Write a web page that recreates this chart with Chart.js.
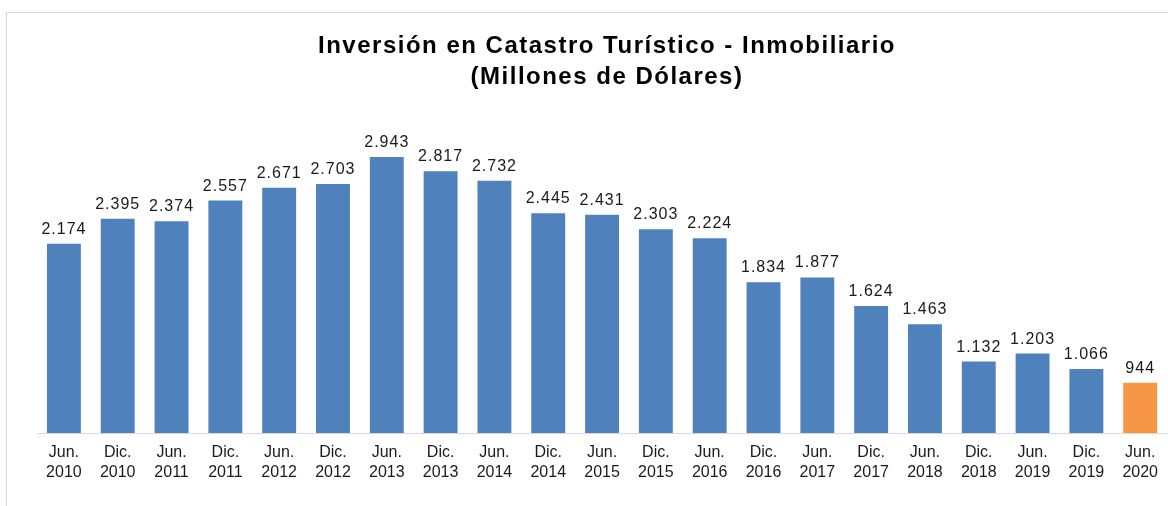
<!DOCTYPE html>
<html>
<head>
    <title>Inversión en Catastro Turístico - Inmobiliario</title>
    <script src="https://cdn.jsdelivr.net/npm/chart.js"></script>
    <style>
        body { margin: 0; overflow: hidden; background: #fff; }
        #marco { position: absolute; left: 6px; top: 12px; width: 1400px; height: 700px; border: 1px solid #d9d9d9; }
        #caja { position: absolute; left: 0; top: 0; width: 1168px; height: 506px; }
    </style>
</head>
<body>
    <div id="marco"></div>
    <div id="caja"><canvas id="grafico"></canvas></div>
    <script>
        // periodos (mes / año) y valores en millones de dólares
        const meses = ['Jun.', 'Dic.', 'Jun.', 'Dic.', 'Jun.', 'Dic.', 'Jun.', 'Dic.', 'Jun.', 'Dic.', 'Jun.',
                       'Dic.', 'Jun.', 'Dic.', 'Jun.', 'Dic.', 'Jun.', 'Dic.', 'Jun.', 'Dic.', 'Jun.'];
        const anios = ['2010', '2010', '2011', '2011', '2012', '2012', '2013', '2013', '2014', '2014', '2015',
                       '2015', '2016', '2016', '2017', '2017', '2018', '2018', '2019', '2019', '2020'];
        const inversion = [2174, 2395, 2374, 2557, 2671, 2703, 2943, 2817, 2732, 2445, 2431,
                           2303, 2224, 1834, 1877, 1624, 1463, 1132, 1203, 1066, 944];
        const titulo = ['Inversión en Catastro Turístico - Inmobiliario', '(Millones de Dólares)'];

        const etiquetas = meses.map((m, i) => [m, anios[i]]);
        const colores = inversion.map((v, i) => i === inversion.length - 1 ? '#F79646' : '#4F81BD');
        const fuente = '"Liberation Sans", Arial, sans-serif';

        // formato con punto de miles: 2174 -> 2.174
        function formato(v) {
            return String(v).replace(/\B(?=(\d{3})+(?!\d))/g, '.');
        }

        // título y valores dibujados a mano (Excel los espacia más que el canvas)
        const textos = {
            id: 'textos',
            afterDatasetsDraw(chart) {
                const ctx = chart.ctx;
                ctx.save();
                ctx.font = '16px ' + fuente;
                ctx.letterSpacing = '1px';
                ctx.fillStyle = '#1a1a1a';
                ctx.textAlign = 'center';
                ctx.textBaseline = 'alphabetic';
                chart.getDatasetMeta(0).data.forEach((barra, i) => {
                    ctx.fillText(formato(inversion[i]), barra.x, barra.y - 10);
                });

                ctx.font = 'bold 24px ' + fuente;
                ctx.letterSpacing = '1.5px';
                ctx.fillStyle = '#000';
                titulo.forEach((linea, i) => {
                    ctx.fillText(linea, 607, 53 + i * 31);
                });
                ctx.restore();
            }
        };

        const ctx = document.getElementById('grafico').getContext('2d');
        new Chart(ctx, {
            type: 'bar',
            data: {
                labels: etiquetas,
                datasets: [{
                    data: inversion,
                    backgroundColor: colores,
                    barPercentage: 0.63,
                    categoryPercentage: 1
                }]
            },
            options: {
                responsive: true,
                maintainAspectRatio: false,
                animation: false,
                layout: { padding: { left: 37, right: 0, top: 94, bottom: 13 } },
                plugins: {
                    legend: { display: false },
                    tooltip: { enabled: false },
                    title: { display: false }
                },
                scales: {
                    x: {
                        grid: { display: false, drawTicks: false },
                        border: { display: true, color: '#d9d9d9', width: 1 },
                        ticks: {
                            color: '#1a1a1a',
                            font: { family: fuente, size: 16, lineHeight: 1.25 },
                            maxRotation: 0,
                            autoSkip: false,
                            padding: 10
                        }
                    },
                    y: {
                        display: false,
                        min: 500,
                        max: 3500
                    }
                }
            },
            plugins: [textos]
        });
    </script>
</body>
</html>
